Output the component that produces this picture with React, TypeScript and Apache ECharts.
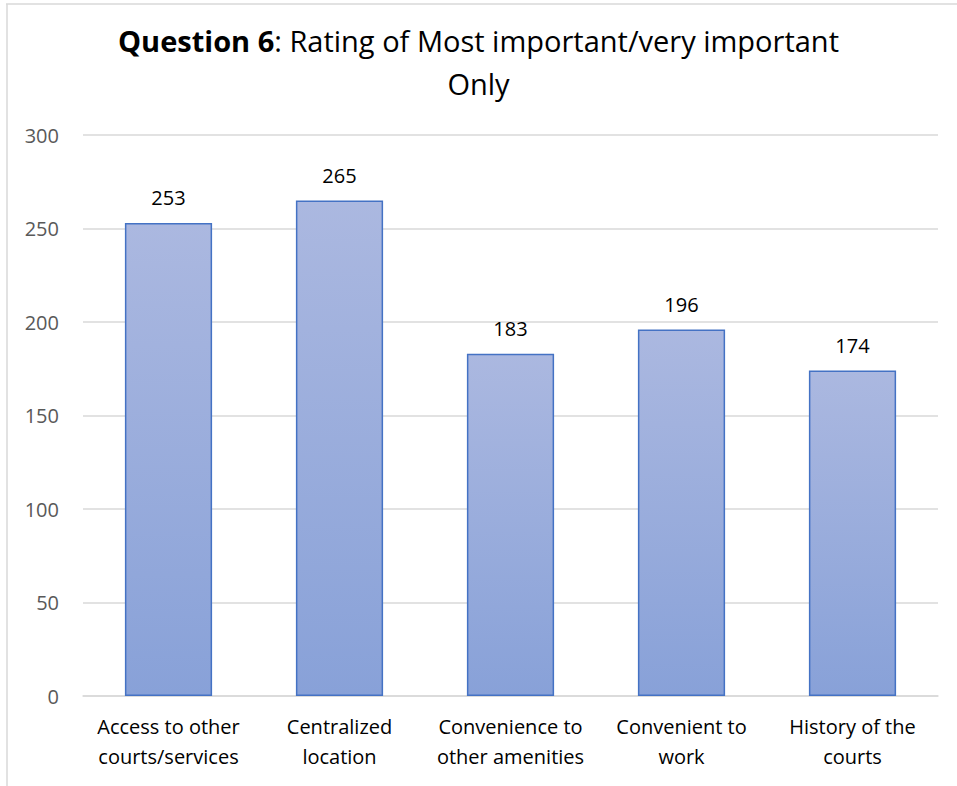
import React, { useEffect, useRef } from "react";
import * as echarts from "echarts";

const categories = [
  "Access to other\ncourts/services",
  "Centralized\nlocation",
  "Convenience to\nother amenities",
  "Convenient to\nwork",
  "History of the\ncourts",
];
const values = [253, 265, 183, 196, 174];
const yTicks = { min: 0, max: 300, interval: 50 };

const FONT = "'Open Sans', 'Noto Sans', sans-serif";

export default function App() {
  const ref = useRef<HTMLDivElement>(null);
  useEffect(() => {
    if (!ref.current) return;
    const chart = echarts.init(ref.current, null, { renderer: "svg" });
    chart.setOption({
      animation: false,
      backgroundColor: "#ffffff",
      title: {
        text: "{b|Question 6}: Rating of Most important/very important\nOnly",
        left: "center",
        top: 14,
        textStyle: {
          fontFamily: FONT,
          fontSize: 29,
          fontWeight: "normal",
          color: "#000",
          lineHeight: 43,
          rich: {
            b: { fontFamily: FONT, fontSize: 29, fontWeight: "bold", color: "#000", lineHeight: 43 },
          },
        },
      },
      graphic: [
        { type: "line", shape: { x1: 6, y1: 4, x2: 957, y2: 4 }, style: { stroke: "#d9d9d9", lineWidth: 1.5 } },
        { type: "line", shape: { x1: 7, y1: 4, x2: 7, y2: 786 }, style: { stroke: "#d9d9d9", lineWidth: 1.5 } },
      ],
      grid: { left: 83, right: 19, top: 135, bottom: 90 },
      xAxis: {
        type: "category",
        data: categories,
        axisLine: { lineStyle: { color: "#d9d9d9", width: 1.5 } },
        axisTick: { show: false },
        axisLabel: {
          fontFamily: FONT,
          fontSize: 20,
          color: "#000",
          lineHeight: 30,
          margin: 15,
          interval: 0,
        },
      },
      yAxis: {
        type: "value",
        min: yTicks.min,
        max: yTicks.max,
        interval: yTicks.interval,
        axisLine: { show: false },
        axisTick: { show: false },
        splitLine: { lineStyle: { color: "#d9d9d9", width: 1.5 } },
        axisLabel: { fontFamily: FONT, fontSize: 20, color: "#595959", margin: 24 },
      },
      series: [
        {
          type: "bar",
          data: values,
          barWidth: "51%",
          itemStyle: {
            color: new echarts.graphic.LinearGradient(0, 0, 0, 1, [
              { offset: 0, color: "#abb8e0" },
              { offset: 1, color: "#88a1d8" },
            ]),
            borderColor: "#4472c4",
            borderWidth: 1.5,
          },
          label: {
            show: true,
            position: "top",
            distance: 15,
            fontFamily: FONT,
            fontSize: 20,
            color: "#000",
          },
        },
      ],
    });
    return () => chart.dispose();
  }, []);
  return (
    <div
      ref={ref}
      style={{ position: "fixed", left: 0, top: 0, width: 957, height: 786 }}
    />
  );
}
